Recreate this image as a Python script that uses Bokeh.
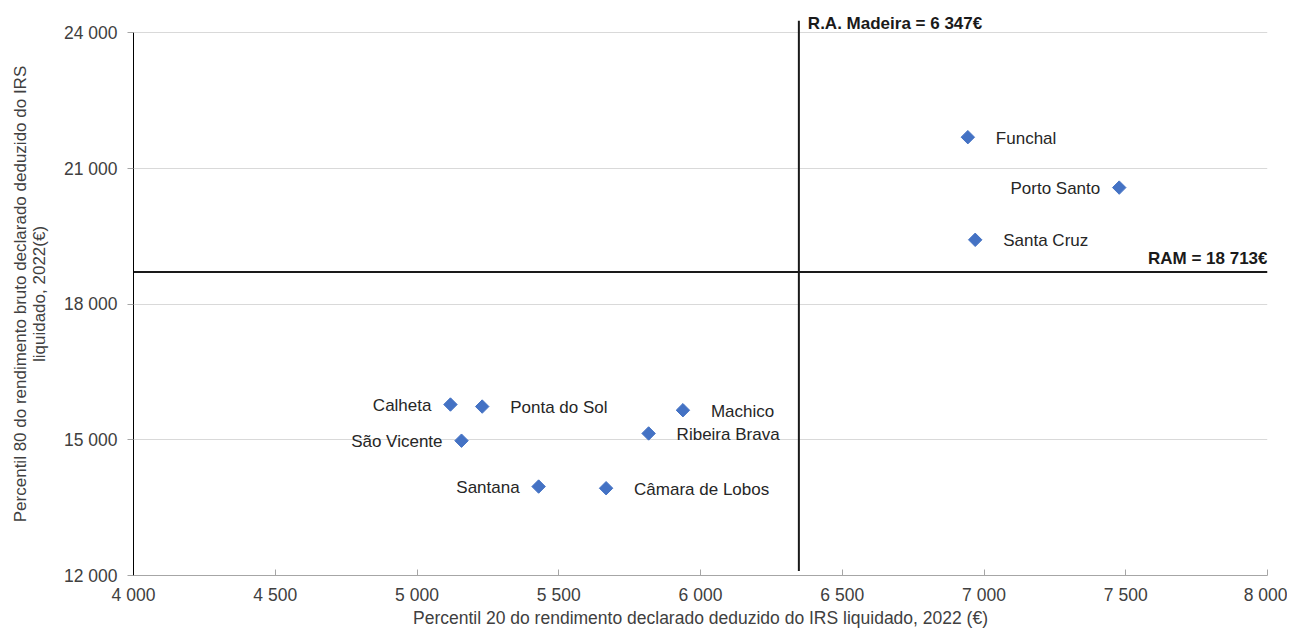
import math
from bokeh.plotting import figure
from bokeh.models import Range1d, FixedTicker, Label, ColumnDataSource
from bokeh.core.properties import value
from bokeh.embed import file_html
from bokeh.resources import INLINE

# ---- data ----
municipios = ["Funchal", "Porto Santo", "Santa Cruz", "Calheta", "Ponta do Sol",
              "Machico", "Ribeira Brava", "São Vicente", "Santana", "Câmara de Lobos"]
p20 = [6943, 7477, 6969, 5118, 5230, 5938, 5817, 5157, 5429, 5667]
p80 = [21693, 20578, 19423, 15781, 15736, 15655, 15141, 14981, 13967, 13930]
ram_p20 = 6347
ram_p80 = 18713
x_ticks = [4000, 4500, 5000, 5500, 6000, 6500, 7000, 7500, 8000]
x_tick_labels = ["4 000", "4 500", "5 000", "5 500", "6 000", "6 500", "7 000", "7 500", "8 000"]
y_ticks = [12000, 15000, 18000, 21000, 24000]
y_tick_labels = ["12 000", "15 000", "18 000", "21 000", "24 000"]
label_side = ["right", "left", "right", "left", "right", "right", "right", "left", "left", "right"]

FONT = "Liberation Sans"
TXT = "#404040"

p = figure(width=1287, height=630, output_backend="svg", toolbar_location=None,
           x_range=Range1d(4000, 8000), y_range=Range1d(12000, 24450),
           min_border_left=133, min_border_right=20, min_border_top=12, min_border_bottom=53)
p.outline_line_color = None
p.background_fill_color = "white"

# axes
p.xaxis.ticker = FixedTicker(ticks=x_ticks)
p.xaxis.major_label_overrides = dict(zip(x_ticks, x_tick_labels))
p.yaxis.ticker = FixedTicker(ticks=y_ticks)
p.yaxis.major_label_overrides = dict(zip(y_ticks, y_tick_labels))
p.yaxis.bounds = (12000, 24000)
for ax in (p.xaxis, p.yaxis):
    ax.minor_tick_line_color = None
    ax.major_label_text_font = FONT
    ax.major_label_text_font_size = "17.5px"
    ax.major_label_text_color = TXT
    ax.axis_label_text_font = FONT
    ax.axis_label_text_font_style = "normal"
    ax.axis_label_text_color = TXT

p.xaxis.axis_line_color = "#a6a6a6"
p.xaxis.major_tick_line_color = "#a6a6a6"
p.xaxis.major_tick_in = 6
p.xaxis.major_tick_out = 0
p.xaxis.major_label_standoff = 9
p.xaxis.axis_label = "Percentil 20 do rendimento declarado deduzido do IRS liquidado, 2022 (€)"
p.xaxis.axis_label_standoff = 0
p.xaxis.axis_label_text_font_size = "17.5px"
p.xaxis.axis_label_text_line_height = 1.0

p.yaxis.axis_line_color = "black"
p.yaxis.major_tick_line_color = "#a6a6a6"
p.yaxis.major_tick_in = 0
p.yaxis.major_tick_out = 6
p.yaxis.major_label_standoff = 10
p.yaxis.axis_label = "Percentil 80 do rendimento bruto declarado deduzido do IRS\nliquidado, 2022(€)"
p.yaxis.axis_label_standoff = 12
p.yaxis.axis_label_text_font_size = "17px"
p.yaxis.axis_label_text_line_height = 1.0

p.xgrid.grid_line_color = None
p.ygrid.ticker = FixedTicker(ticks=y_ticks)
p.ygrid.grid_line_color = "#d9d9d9"
p.ygrid.grid_line_width = 1

# reference lines
p.segment(x0=[ram_p20], y0=[12100], x1=[ram_p20], y1=[24270], line_color="#1a1a1a", line_width=2)
p.segment(x0=[4000], y0=[ram_p80], x1=[8000], y1=[ram_p80], line_color="#1a1a1a", line_width=2)

p.add_layout(Label(x=ram_p20, y=24000, x_offset=9, y_offset=9, text="R.A. Madeira = 6 347€",
                   text_font=FONT, text_font_size="17px", text_font_style="bold",
                   text_color="#1a1a1a", text_baseline="middle", text_align="left"))
p.add_layout(Label(x=8000, y=ram_p80, x_offset=0, y_offset=13, text="RAM = 18 713€",
                   text_font=FONT, text_font_size="17px", text_font_style="bold",
                   text_color="#1a1a1a", text_baseline="middle", text_align="right"))

# points
src = ColumnDataSource(dict(
    x=p20, y=p80, name=municipios,
    align=["left" if s == "right" else "right" for s in label_side],
    xo=[28 if s == "right" else -19 for s in label_side],
))
p.scatter("x", "y", source=src, marker="square", size=9.5, angle=math.pi / 4,
          fill_color="#4472C4", line_color="#4472C4")
p.text("x", "y", text="name", source=src, x_offset="xo", y_offset=1,
       text_align="align", text_baseline="middle",
       text_font=value(FONT), text_font_size="17px", text_color="#262626")

open("out.html", "w").write(file_html(p, INLINE))
